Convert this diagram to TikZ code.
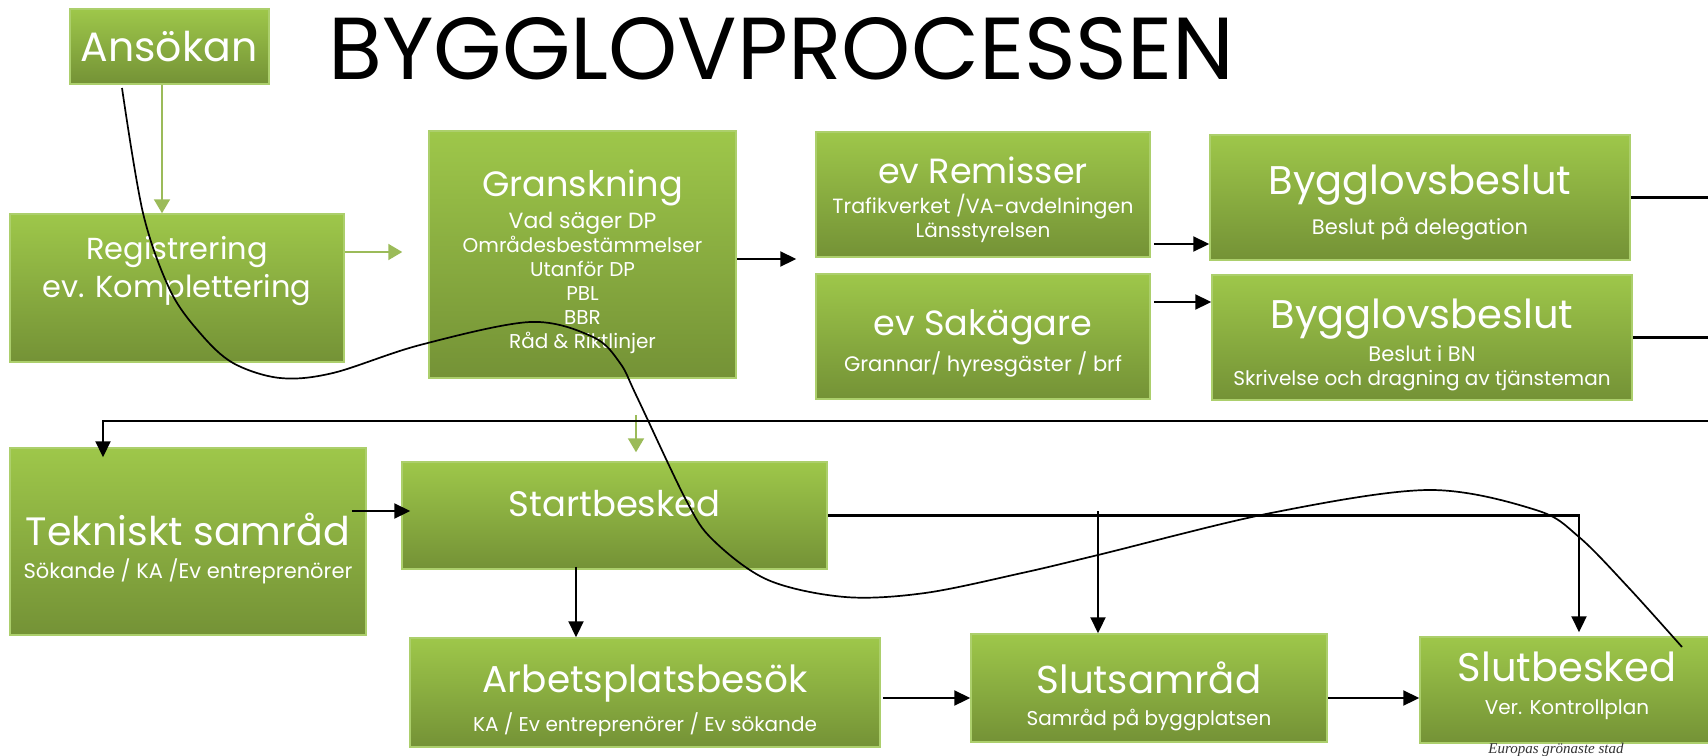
\documentclass[tikz,border=0pt]{standalone}
\usepackage{fontspec}
\setmainfont{Poppins}
\newfontfamily\serifit{Liberation Serif}
\usetikzlibrary{arrows.meta,calc}
\definecolor{gtop}{RGB}{158,199,74}
\definecolor{gbot}{RGB}{116,146,54}
\definecolor{gborder}{RGB}{172,207,108}
\definecolor{garr}{RGB}{155,187,89}
\newcommand\fsz[2]{\fontsize{#1}{#2}\selectfont}
\begin{document}
\begin{tikzpicture}[x=0.5pt,y=-0.5pt,
  box/.style={draw=gborder, line width=0.75pt, top color=gtop, bottom color=gbot, inner sep=0pt, rectangle},
  lbl/.style={text=white, align=center, inner sep=0pt},
  conn/.style={line width=1.1pt, -{Triangle[length=8pt,width=7.5pt]}},
  plainline/.style={line width=1.1pt},
  gconn/.style={draw=garr, line width=1pt, -{Triangle[length=7pt,width=8pt]}},
  wave/.style={line width=0.85pt}]
\useasboundingbox (0,0) rectangle (1708,755);
\clip (0,0) rectangle (1708,755);

% boxes
\node[box, minimum width=99.5pt, minimum height=37.5pt] (ans) at (169.5,46.5) {};
\node[box, minimum width=167pt, minimum height=74pt] (reg) at (177,288) {};
\node[box, minimum width=153.5pt, minimum height=123.5pt] (gran) at (582.5,254.5) {};
\node[box, minimum width=167pt, minimum height=62.5pt] (rem) at (983,194.5) {};
\node[box, minimum width=210pt, minimum height=62.5pt] (byg1) at (1420,197.5) {};
\node[box, minimum width=167pt, minimum height=62.5pt] (sak) at (983,336.5) {};
\node[box, minimum width=210pt, minimum height=62.5pt] (byg2) at (1422,337.5) {};
\node[box, minimum width=178pt, minimum height=93.5pt] (tek) at (188,541.5) {};
\node[box, minimum width=212.5pt, minimum height=53.5pt] (start) at (614.5,515.5) {};
\node[box, minimum width=235pt, minimum height=54.5pt] (arb) at (645,692.5) {};
\node[box, minimum width=178pt, minimum height=54pt] (sluts) at (1149,688) {};
\node[box, minimum width=147.5pt, minimum height=53pt] (slutb) at (1567.5,690) {};

% title
\node[anchor=base, font=\fsz{44}{50}] (title) at (781.5,79) {BYGGLOVPROCESSEN};

% texts
\node[lbl, font=\fsz{20.5}{24}] (tans) at (169,47) {Ansökan};
\node[lbl, font=\fsz{15.2}{19}] (treg) at (177,271) {Registrering\\ev. Komplettering};
\node[lbl] (tgran) at (582.5,262) {\fsz{17.6}{20}Granskning\\[2pt]\fsz{11}{13}Vad säger DP\\Områdesbestämmelser\\Utanför DP\\PBL\\BBR\\Råd \& Riktlinjer};
\node[lbl] (trem) at (983,200) {\fsz{17.5}{20}ev Remisser\\[3pt]\fsz{10.3}{13}Trafikverket /VA-avdelningen\\Länsstyrelsen};
\node[lbl] (tbyg1) at (1420,203) {\fsz{20}{24}Bygglovsbeslut\\[5pt]\fsz{10.5}{13}Beslut på delegation};
\node[lbl] (tsak) at (983,343) {\fsz{17.5}{20}ev Sakägare\\[2.5pt]\fsz{10.5}{13}Grannar/ hyresgäster / brf};
\node[lbl] (tbyg2) at (1422,345) {\fsz{20}{24}Bygglovsbeslut\\[2.5pt]\fsz{10.5}{13}Beslut i BN\\Skrivelse och dragning av tjänsteman};
\node[lbl] (ttek) at (188,549) {\fsz{19.8}{24}Tekniskt samråd\\[4.5pt]\fsz{10.5}{12.5}Sökande / KA /Ev entreprenörer};
\node[lbl, font=\fsz{17.7}{22}] (tstart) at (614.5,504) {Startbesked};
\node[lbl] (tarb) at (645,701) {\fsz{18.7}{23}Arbetsplatsbesök\\[4pt]\fsz{10}{12.5}KA / Ev entreprenörer / Ev sökande};
\node[lbl] (tsluts) at (1149,696) {\fsz{19.4}{24}Slutsamråd\\[4pt]\fsz{10}{12.5}Samråd på byggplatsen};
\node[lbl] (tslutb) at (1567,686) {\fsz{20}{24}Slutbesked\\[4.5pt]\fsz{10}{12.5}Ver. Kontrollplan};

\node[anchor=base, font=\serifit\itshape\fsz{7.5}{9}, text=black!80] (eu) at (1556,753) {Europas grönaste stad};

% free ends
\coordinate (e1) at (1712,197.5);
\coordinate (e2) at (1712,337.5);
\coordinate (e3) at (1712,421);
\coordinate (g0) at (636,415);
\coordinate (b0) at (1098,511);

% green connectors
\draw[gconn] ([xshift=-3.75pt]ans.south) -- ([xshift=-3.75pt]ans.south |- reg.north);
\draw[gconn, shorten >=13pt] ([yshift=18pt]reg.east) -- ([yshift=18pt]reg.east -| gran.west);
\draw[gconn, shorten >=4.5pt] (g0) -- (g0 |- start.north);

% black connectors
\draw[conn, shorten >=9.5pt] ([yshift=-2.25pt]gran.east) -- ([yshift=-2.25pt]gran.east -| rem.west);
\draw[conn, shorten <=1.5pt] ([yshift=-24.75pt]rem.east) -- ([yshift=-24.75pt]rem.east -| byg1.west);
\draw[conn, shorten <=1.5pt] ([yshift=17.25pt]sak.east) -- ([yshift=17.25pt]sak.east -| byg2.west);
\draw[plainline] (byg1.east) -- (e1);
\draw[plainline] (byg2.east) -- (e2);
\draw[conn, shorten >=-5pt] (e3) -| ([xshift=-42.5pt]tek.north);
\draw[conn, shorten <=-7.5pt, shorten >=-4.5pt] ([yshift=15.25pt]tek.east) -- ([yshift=15.25pt]tek.east -| start.west);
\draw[conn, shorten <=-1.5pt] ([xshift=-19.25pt]start.south) -- ([xshift=-19.25pt]start.south |- arb.north);
\draw[conn, shorten >=2pt] (start.east) -| ([xshift=5.75pt]slutb.north);
\draw[conn] (b0) -- (b0 |- sluts.north);
\draw[conn, shorten <=1pt] ([yshift=-2.75pt]arb.east) -- ([yshift=-2.75pt]arb.east -| sluts.west);
\draw[conn] ([yshift=-5pt]sluts.east) -- ([yshift=-5pt]sluts.east -| slutb.west);

% wave curve
\draw[wave] plot[smooth, tension=0.55] coordinates {(122,88) (143,213) (170,290) (200,333) (233,363) (280,378) (333,373) (420,345) (530,322) (593,337) (620,363) (637,397) (686,500) (713,540) (768,580) (845,597) (925,593) (1022,573) (1098,555) (1271,513) (1428,490) (1536,510) (1579,537) (1628,587) (1682,647)};
\end{tikzpicture}
\end{document}
